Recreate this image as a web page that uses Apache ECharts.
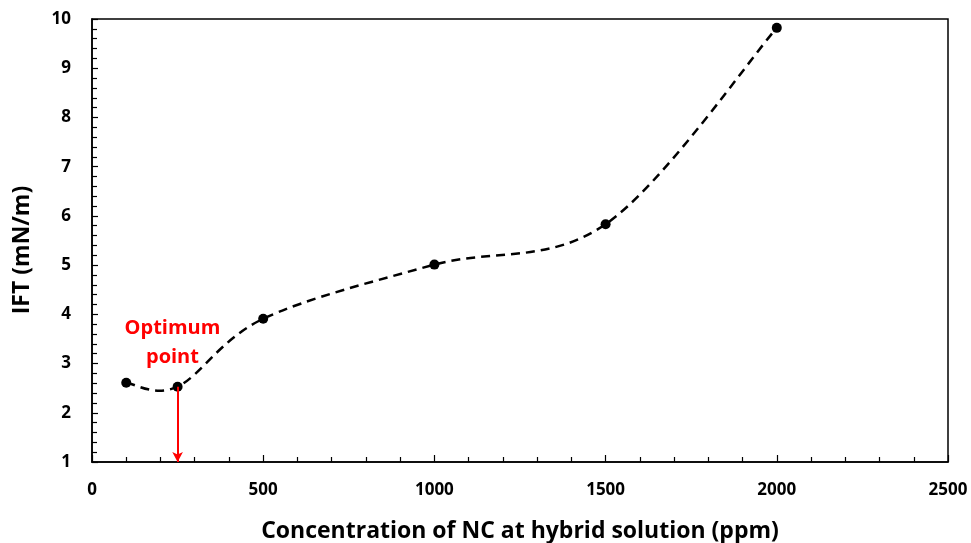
<!DOCTYPE html>
<html>
<head>
<meta charset="utf-8">
<script src="https://cdn.jsdelivr.net/npm/echarts@6/dist/echarts.min.js"></script>
<style>
  html, body { margin: 0; padding: 0; background: #fff; }
  #chart { width: 971px; height: 543px; }
</style>
</head>
<body>
<div id="chart"></div>
<script>
// NC concentration (ppm) and measured interfacial tension (mN/m)
const concentrations = [100, 250, 500, 1000, 1500, 2000];
const iftValues = [2.61, 2.53, 3.91, 5.01, 5.83, 9.82];

// Optimum concentration marker
const optimumX = 250;
const optimumY = 2.53;
const optimumLabel = 'Optimum\npoint';
const optimumLabelPos = [235, 3.42];

const xTitle = 'Concentration of NC at hybrid solution (ppm)';
const yTitle = 'IFT (mN/m)';

const fontFamily = '"Open Sans", "Liberation Sans", sans-serif';

const chart = echarts.init(document.getElementById('chart'), null, { renderer: 'canvas' });

const points = concentrations.map((c, i) => [c, iftValues[i]]);

// Smooth trend line: Catmull-Rom spline (as cubic Beziers) through the
// screen positions of the data points, computed by the chart's own axes.
function renderTrend(params, api) {
  if (params.dataIndex !== 0) return null;
  const p = points.map(d => api.coord(d));
  const n = p.length;
  let d = 'M' + p[0][0] + ' ' + p[0][1];
  for (let i = 0; i < n - 1; i++) {
    const p0 = p[Math.max(i - 1, 0)];
    const p1 = p[i];
    const p2 = p[i + 1];
    const p3 = p[Math.min(i + 2, n - 1)];
    const c1x = p1[0] + (p2[0] - p0[0]) / 6;
    const c1y = p1[1] + (p2[1] - p0[1]) / 6;
    const c2x = p2[0] - (p3[0] - p1[0]) / 6;
    const c2y = p2[1] - (p3[1] - p1[1]) / 6;
    d += ' C' + c1x + ' ' + c1y + ' ' + c2x + ' ' + c2y + ' ' + p2[0] + ' ' + p2[1];
  }
  return {
    type: 'path',
    shape: { pathData: d },
    style: { fill: 'none', stroke: '#000', lineWidth: 2.5, lineDash: [9, 6] }
  };
}

chart.setOption({
  animation: false,
  backgroundColor: '#ffffff',
  grid: {
    left: 92, right: 23, top: 19, bottom: 81,
    outerBoundsMode: 'none', containLabel: false,
    show: true, borderColor: '#000', borderWidth: 1.5, backgroundColor: 'transparent'
  },
  graphic: [
    {
      type: 'text',
      rotation: Math.PI / 2,
      x: 22, y: 250,
      style: {
        text: yTitle, fontFamily, fontWeight: 'bold', fontSize: 23, fill: '#000',
        align: 'center', verticalAlign: 'middle'
      }
    }
  ],
  xAxis: {
    type: 'value', min: 0, max: 2500, interval: 500,
    name: xTitle, nameLocation: 'middle', nameGap: 58,
    nameTextStyle: { fontFamily, fontWeight: 'bold', fontSize: 23, color: '#000' },
    axisLine: { show: true, lineStyle: { color: '#000', width: 1.5 } },
    axisTick: { show: true, inside: true, length: 7, lineStyle: { color: '#000', width: 1.2 } },
    minorTick: { show: true, splitNumber: 5, length: 5, lineStyle: { color: '#000', width: 1.2 } },
    axisLabel: {
      fontFamily, fontWeight: 'bold', fontSize: 17, color: '#000', margin: 20,
      formatter: v => String(v)
    },
    splitLine: { show: false }
  },
  yAxis: {
    type: 'value', min: 1, max: 10, interval: 1,
    axisLine: { show: true, lineStyle: { color: '#000', width: 1.5 } },
    axisTick: { show: true, inside: true, length: 6, lineStyle: { color: '#000', width: 1.2 } },
    minorTick: { show: true, splitNumber: 5, length: 5, lineStyle: { color: '#000', width: 1.2 } },
    axisLabel: { fontFamily, fontWeight: 'bold', fontSize: 17, color: '#000', margin: 21 },
    splitLine: { show: false }
  },
  series: [
    {
      type: 'custom',
      data: points,
      renderItem: renderTrend,
      silent: true,
      z: 2
    },
    {
      type: 'scatter',
      data: points,
      symbol: 'circle',
      symbolSize: 10,
      itemStyle: { color: '#000', opacity: 1 },
      z: 3,
      markLine: {
        silent: true,
        symbol: ['none', 'arrow'],
        symbolSize: [8, 10],
        label: { show: false },
        lineStyle: { color: '#ff0000', width: 2, type: 'solid' },
        data: [[{ coord: [optimumX, optimumY] }, { coord: [optimumX, 1] }]]
      }
    },
    {
      type: 'scatter',
      data: [optimumLabelPos],
      symbolSize: 0,
      silent: true,
      itemStyle: { opacity: 1, color: '#ff0000' },
      label: {
        show: true, position: 'inside', formatter: optimumLabel,
        fontFamily, fontWeight: 'bold', fontSize: 20, lineHeight: 29, color: '#ff0000', align: 'center'
      }
    }
  ]
});
</script>
</body>
</html>
